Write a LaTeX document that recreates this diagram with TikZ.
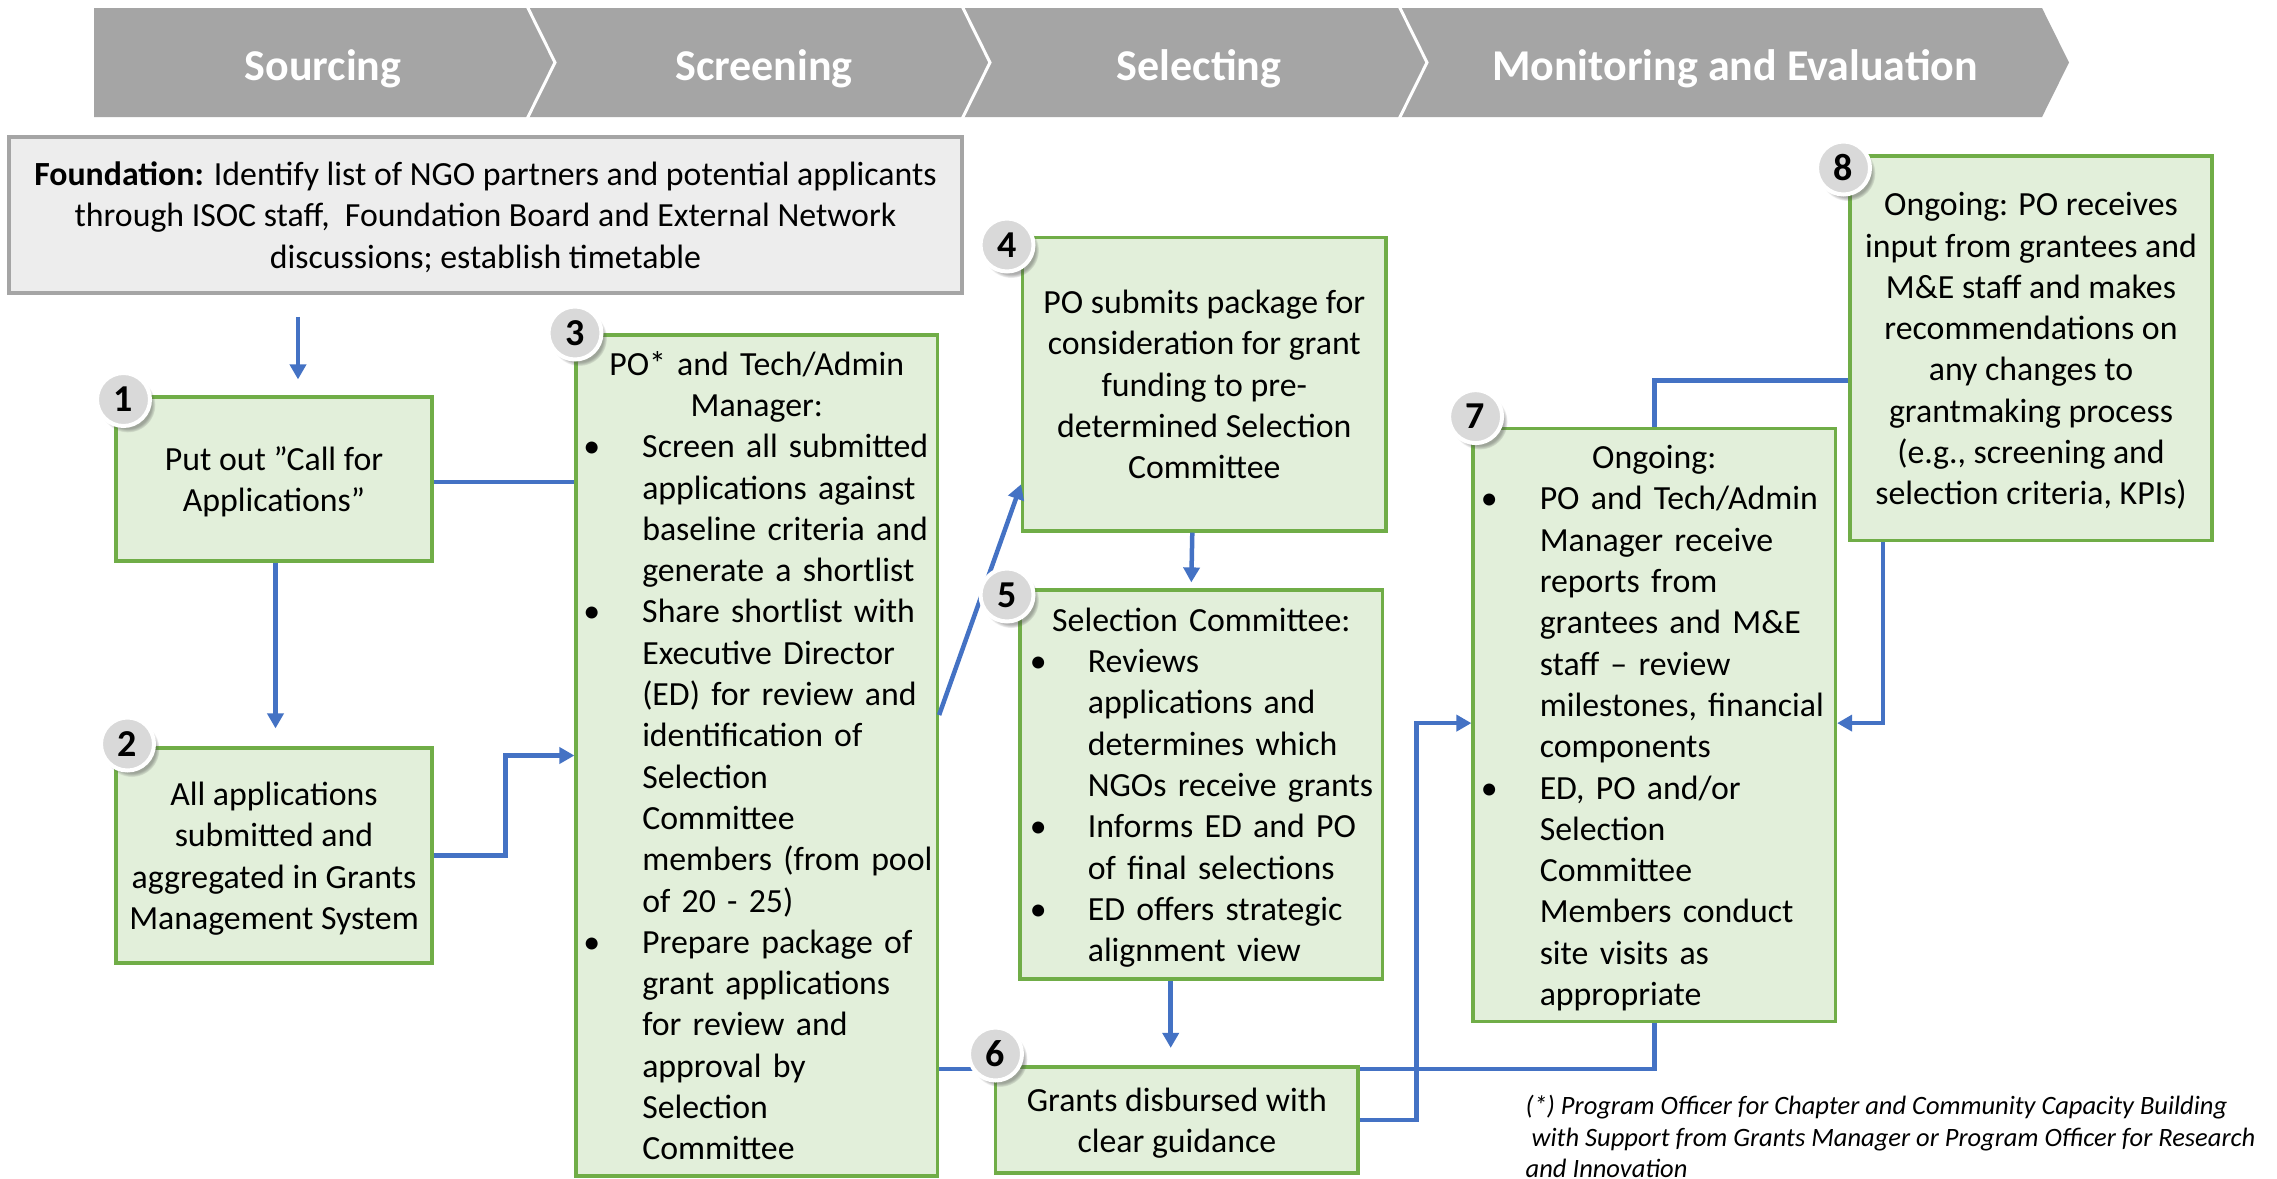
\documentclass[tikz,border=0pt]{standalone}
\usepackage{fontspec}
\setmainfont{Carlito}
\usetikzlibrary{arrows.meta,shadows,fadings}
\definecolor{boxfill}{HTML}{E2EFDA}
\definecolor{boxline}{HTML}{70AD47}
\definecolor{arrblue}{HTML}{4472C4}
\definecolor{bannergray}{HTML}{A5A5A5}
\definecolor{foundfill}{HTML}{EDEDED}
\definecolor{foundline}{HTML}{A5A5A5}
\definecolor{badgefill}{HTML}{D9D9D9}
\newcommand\bitem[2][59pt]{\makebox[#1][l]{•}\mbox{#2}}
\newcommand\bcont[2][59pt]{\hspace*{#1}\mbox{#2}}
\newcommand\ps{\rule[-8.7pt]{0pt}{41.3pt}}
\tikzset{
  txtfont/.style={font=\fontsize{33.8}{41.3}\selectfont},
  box/.style={draw=boxline, fill=boxfill, line width=3.2pt, inner sep=0pt, txtfont},
  foundbox/.style={draw=foundline, fill=foundfill, line width=3.5pt, inner sep=0pt, txtfont},
  conn/.style={draw=arrblue, line width=4.5pt},
  arr/.style={conn, -{Triangle[length=15pt,width=16pt]}},
  badge/.style={circle, draw=white, line width=4pt, fill=badgefill, minimum size=53pt, inner sep=0pt,
    font=\fontsize{38}{40}\selectfont\bfseries,
    circular drop shadow={shadow xshift=4pt, shadow yshift=-5pt, shadow scale=1.05, opacity=0.45, fill=black!70}},
  bantxt/.style={text=white, font=\fontsize{44}{48}\selectfont\bfseries, anchor=base, inner sep=0pt},
  sep/.style={draw=white, line width=3pt},
}
\begin{document}
\begin{tikzpicture}[x=1pt,y=-1pt]
\useasboundingbox (0,0) rectangle (2277,1178);
\clip (0,0) rectangle (2277,1178);
\fill[white] (0,0) rectangle (2277,1178);

% banner
\fill[bannergray] (94,8) -- (2042,8) -- (2069,62.5) -- (2042,117) -- (94,117) -- cycle;
\draw[sep] (524,0) -- (555,62.5) -- (524,125);
\draw[sep] (959,0) -- (990,62.5) -- (959,125);
\draw[sep] (1396,0) -- (1427,62.5) -- (1396,125);
\node[bantxt] (ph1) at (323,80) {Sourcing};
\node[bantxt] (ph2) at (764,80) {Screening};
\node[bantxt] (ph3) at (1199,80) {Selecting};
\node[bantxt] (ph4) at (1735,80) {Monitoring and Evaluation};

% foundation box
\node[foundbox, minimum width=953pt, minimum height=156pt, align=center] (found) at (485.5,215)
  {\ps\textbf{Foundation:} Identify list of NGO partners and potential applicants\\
   through ISOC staff,\ \ Foundation Board and External Network\\
   \ps discussions; establish timetable};

% boxes
\node[box, minimum width=316pt, minimum height=164pt, align=center] (b1) at (274,479)
  {\ps Put out ”Call for\\\ps Applications”};
\node[box, minimum width=316pt, minimum height=215pt, align=center] (b2) at (274,855.5)
  {\ps All applications\\submitted and\\aggregated in Grants\\\ps Management System};
\node[box, minimum width=361.5pt, minimum height=841pt, text width=347pt, align=left] (b3) at (756.75,755.5)
  {\ps\makebox[347pt][c]{PO* and Tech/Admin}\\
   \makebox[347pt][c]{Manager:}\\
   \bitem{Screen all submitted}\\
   \bcont{applications against}\\
   \bcont{baseline criteria and}\\
   \bcont{generate a shortlist}\\
   \bitem{Share shortlist with}\\
   \bcont{Executive Director}\\
   \bcont{(ED) for review and}\\
   \bcont{identification of}\\
   \bcont{Selection}\\
   \bcont{Committee}\\
   \bcont{members (from pool}\\
   \bcont{of 20 - 25)}\\
   \bitem{Prepare package of}\\
   \bcont{grant applications}\\
   \bcont{for review and}\\
   \bcont{approval by}\\
   \bcont{Selection}\\
   \ps\bcont{Committee}};
\node[box, minimum width=363.3pt, minimum height=293.5pt, align=center] (b4) at (1204.3,384.25)
  {\ps PO submits package for\\consideration for grant\\funding to pre-\\determined Selection\\\ps Committee};
\node[box, minimum width=362.7pt, minimum height=389pt, text width=343pt, align=left] (b5) at (1201.3,784.5)
  {\ps\makebox[343pt][c]{Selection Committee:}\\
   \bitem[58pt]{Reviews}\\
   \bcont[58pt]{applications and}\\
   \bcont[58pt]{determines which}\\
   \bcont[58pt]{NGOs receive grants}\\
   \bitem[58pt]{Informs ED and PO}\\
   \bcont[58pt]{of final selections}\\
   \bitem[58pt]{ED offers strategic}\\
   \ps\bcont[58pt]{alignment view}};
\node[box, minimum width=362.5pt, minimum height=593.2pt, text width=347pt, align=left] (b7) at (1654.25,725.1)
  {\ps\makebox[347pt][c]{Ongoing:}\\
   \bitem{PO and Tech/Admin}\\
   \bcont{Manager receive}\\
   \bcont{reports from}\\
   \bcont{grantees and M\&E}\\
   \bcont{staff – review}\\
   \bcont{milestones, financial}\\
   \bcont{components}\\
   \bitem{ED, PO and/or}\\
   \bcont{Selection}\\
   \bcont{Committee}\\
   \bcont{Members conduct}\\
   \bcont{site visits as}\\
   \ps\bcont{appropriate}};
\node[box, minimum width=362pt, minimum height=384.6pt, align=center] (b8) at (2031,348.3)
  {\ps Ongoing: PO receives\\input from grantees and\\M\&E staff and makes\\recommendations on\\any changes to\\grantmaking process\\(e.g., screening and\\\ps selection criteria, KPIs)};

% connectors
\coordinate (xa) at (298,0);
\draw[arr] ([yshift=-22pt]found.south -| xa) -- ([yshift=16pt]b1.north -| xa);
\draw[arr] ([xshift=1.5pt]b1.south) -- ([xshift=1.5pt,yshift=18pt]b2.north);
\draw[conn] ([yshift=-3pt]b1.east) -- ([yshift=-3pt]b1.east -| b3.west);
\draw[arr] (b2.east) -- ++(72,0) |- (b3.west);
\draw[arr] ([yshift=40.5pt]b3.east) -- ([yshift=-100pt]b4.west);
\draw[arr] ([xshift=-12pt]b4.south) -- ([xshift=-10pt,yshift=6pt]b5.north);
\draw[conn] ([yshift=-313.5pt]b3.east) -| (b7.south);
\draw[conn] ([yshift=-32.4pt]b8.west) -| (b7.north);
\draw[arr] ([xshift=-148pt]b8.south) |- ([yshift=2pt]b7.east);

\node[box, minimum width=362.3pt, minimum height=106pt, align=center] (b6) at (1176.9,1120)
  {\ps Grants disbursed with\\\ps clear guidance};

\draw[arr] ([xshift=-30.6pt]b5.south) -- ([xshift=-6.2pt,yshift=17.5pt]b6.north);
\draw[arr] (b6.east) -- ++(57,0) |- ([yshift=2pt]b7.west);

% badges
\node[badge] (n1) at (123.5,399.5) {1};
\node[badge] (n2) at (127.5,744) {2};
\node[badge] (n3) at (575,333) {3};
\node[badge] (n4) at (1007,245) {4};
\node[badge] (n5) at (1007,595) {5};
\node[badge] (n6) at (995.5,1054) {6};
\node[badge] (n7) at (1475.6,416.6) {7};
\node[badge] (n8) at (1843.5,168) {8};

% footnote
\node[anchor=base west, inner sep=0pt, align=left, font=\fontsize{26.5}{31.5}\selectfont\itshape] (note) at (1525.5,1177.5)
  {(*) Program Officer for Chapter and Community Capacity Building\\
   \hspace*{6pt}with Support from Grants Manager or Program Officer for Research\\
   and Innovation};
\end{tikzpicture}
\end{document}
